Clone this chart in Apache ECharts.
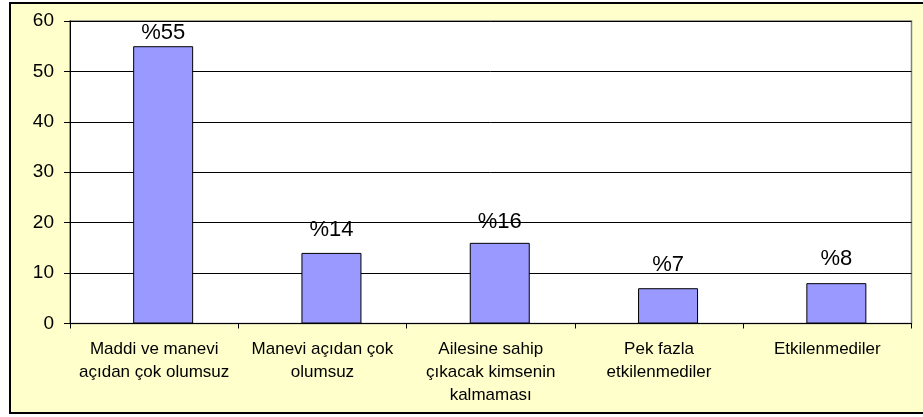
<!DOCTYPE html>
<html>
<head>
<meta charset="utf-8">
<script src="https://cdn.jsdelivr.net/npm/echarts@6/dist/echarts.min.js"></script>
<style>
html,body{margin:0;padding:0;background:#ffffff;}
#c{width:923px;height:417px;}
</style>
</head>
<body>
<div id="c"></div>
<script>
const categories = ["Maddi ve manevi\naçıdan çok olumsuz", "Manevi açıdan çok\nolumsuz", "Ailesine sahip\nçıkacak kimsenin\nkalmaması", "Pek fazla\netkilenmediler", "Etkilenmediler"];
const values = [55, 14, 16, 7, 8];
const valueLabels = ["%55", "%14", "%16", "%7", "%8"];
const labelGaps = [2, 12, 10, 12, 13];

const chart = echarts.init(document.getElementById('c'), null, {renderer: 'canvas'});
const font = '"Liberation Sans", Arial, sans-serif';
chart.setOption({
  animation: false,
  backgroundColor: '#ffffff',
  graphic: [{
    type: 'rect', z: -10, silent: true,
    shape: {x: 10, y: 3, width: 940, height: 410},
    style: {fill: '#FFFFCC', stroke: '#000000', lineWidth: 2}
  }],
  grid: {left: 70, right: 11.5, top: 21, bottom: 93.5, show: true, backgroundColor: '#ffffff', borderColor: '#808080', borderWidth: 1.5},
  xAxis: {
    type: 'category',
    data: categories,
    axisLine: {lineStyle: {color: '#000000', width: 1}},
    axisTick: {show: true, length: 5, alignWithLabel: false, lineStyle: {color: '#000000'}},
    axisLabel: {color: '#000000', fontFamily: font, fontSize: 17, lineHeight: 23, margin: 14, interval: 0}
  },
  yAxis: {
    type: 'value',
    min: 0, max: 60, interval: 10,
    axisLine: {show: true, lineStyle: {color: '#000000', width: 1}},
    axisTick: {show: true, length: 6, lineStyle: {color: '#000000'}},
    axisLabel: {color: '#000000', fontFamily: font, fontSize: 19, margin: 16},
    splitLine: {show: true, lineStyle: {color: '#000000', width: 1}}
  },
  series: [{
    type: 'bar',
    name: 'spacer',
    barWidth: 60,
    data: values.map(() => '-')
  }, {
    type: 'bar',
    barWidth: 60,
    barGap: '-70%',
    data: values.map((v, i) => ({
      value: v,
      label: {distance: labelGaps[i]}
    })),
    itemStyle: {color: '#9999FF', borderColor: '#000000', borderWidth: 1},
    label: {
      show: true, position: 'top', color: '#000000', fontFamily: font, fontSize: 22,
      formatter: p => valueLabels[p.dataIndex]
    }
  }]
});
</script>
</body>
</html>
